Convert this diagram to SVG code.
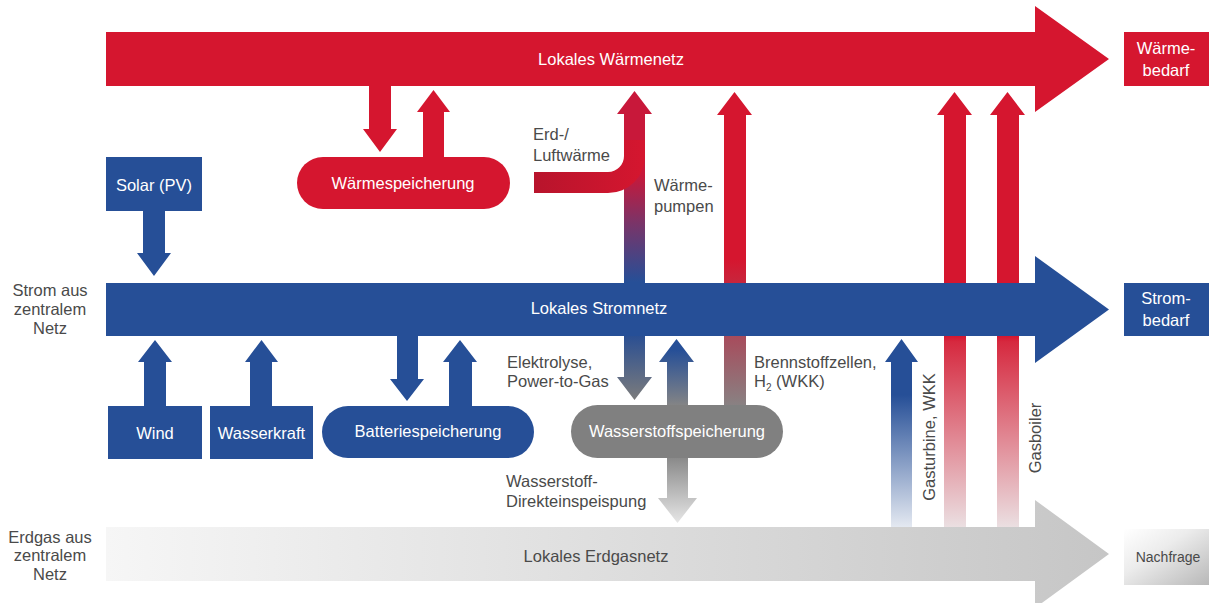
<svg xmlns="http://www.w3.org/2000/svg" width="1209" height="603" viewBox="0 0 1209 603">
<style>
text{font-family:"Liberation Sans",Arial,sans-serif;font-size:16.5px}
.w{fill:#ffffff}
.d{fill:#4a4a4a}
.m{text-anchor:middle}
.red{fill:#d5162f}
.blue{fill:#264f97}
.gray{fill:#808080}
</style>
<defs>
<linearGradient id="gGas" x1="0" y1="0" x2="1" y2="0"><stop offset="0" stop-color="#f6f6f6"/><stop offset="1" stop-color="#c6c6c6"/></linearGradient>
<linearGradient id="gNach" x1="0" y1="0" x2="1" y2="1"><stop offset="0" stop-color="#ffffff"/><stop offset="0.4" stop-color="#ececec"/><stop offset="1" stop-color="#b8b8b8"/></linearGradient>
<linearGradient id="gErd" gradientUnits="userSpaceOnUse" x1="534" y1="0" x2="645" y2="0"><stop offset="0" stop-color="#b8142c"/><stop offset="1" stop-color="#d5162f"/></linearGradient>
<linearGradient id="gWP" gradientUnits="userSpaceOnUse" x1="0" y1="175" x2="0" y2="282"><stop offset="0" stop-color="#c8183a"/><stop offset="0.45" stop-color="#7a3468"/><stop offset="1" stop-color="#264f97"/></linearGradient>
<linearGradient id="gBZ" gradientUnits="userSpaceOnUse" x1="0" y1="260" x2="0" y2="406"><stop offset="0" stop-color="#d5162f"/><stop offset="0.5" stop-color="#a9495a"/><stop offset="1" stop-color="#888283"/></linearGradient>
<linearGradient id="gEL" gradientUnits="userSpaceOnUse" x1="0" y1="336" x2="0" y2="400"><stop offset="0" stop-color="#2b4f92"/><stop offset="1" stop-color="#7c7c7c"/></linearGradient>
<linearGradient id="gH2up" gradientUnits="userSpaceOnUse" x1="0" y1="350" x2="0" y2="406"><stop offset="0" stop-color="#264f97"/><stop offset="1" stop-color="#858585"/></linearGradient>
<linearGradient id="gH2dn" gradientUnits="userSpaceOnUse" x1="0" y1="458" x2="0" y2="523"><stop offset="0" stop-color="#8a8a8a"/><stop offset="1" stop-color="#e6e6e6"/></linearGradient>
<linearGradient id="gGT" gradientUnits="userSpaceOnUse" x1="0" y1="395" x2="0" y2="530"><stop offset="0" stop-color="#264f97"/><stop offset="1" stop-color="#e8ecf3"/></linearGradient>
<linearGradient id="gGB" gradientUnits="userSpaceOnUse" x1="0" y1="336" x2="0" y2="530"><stop offset="0" stop-color="#d5162f"/><stop offset="0.03" stop-color="#d6293f"/><stop offset="1" stop-color="#ebe2e4"/></linearGradient>
</defs>

<g id="connectors">
  <!-- Wärmespeicherung -->
  <path class="red" d="M369,86 V129 H363 L380,152 L397,129 H391 V86 Z"/>
  <path class="red" d="M423,157 V112 H417 L433.5,90 L450,112 H444 V157 Z"/>
  <!-- Wärmepumpen -->
  <path fill="url(#gWP)" d="M624,283 V114 H617 L634.5,91 L652,114 H645 V283 Z"/>
  <path fill="url(#gErd)" d="M534,172 H608 A16,16 0 0 0 624,156 V140 H645 V156 A37,37 0 0 1 608,193 H534 Z"/>
  <!-- Brennstoffzellen -->
  <path fill="url(#gBZ)" d="M724,406 V115 H717 L734.5,92 L752,115 H746 V406 Z"/>
  <!-- Elektrolyse -->
  <path fill="url(#gEL)" d="M624,336 V377 H617 L634.5,400 L652,377 H645 V336 Z"/>
  <!-- H2 up -->
  <path fill="url(#gH2up)" d="M667,406 V362 H659 L676.5,339 L694,362 H688 V406 Z"/>
  <!-- H2 down -->
  <path fill="url(#gH2dn)" d="M667,458 V498 H658 L677.5,523 L697,498 H688 V458 Z"/>
  <!-- Solar -->
  <path class="blue" d="M143,211 V253 H137 L154,276 L171,253 H165 V211 Z"/>
  <!-- Wind -->
  <path class="blue" d="M144,406 V362 H138 L155,340 L172,362 H166 V406 Z"/>
  <!-- Wasserkraft -->
  <path class="blue" d="M250,406 V362 H245 L261.5,340 L278,362 H272 V406 Z"/>
  <!-- Batterie -->
  <path class="blue" d="M397,336 V379 H390 L407,401 L424,379 H418 V336 Z"/>
  <path class="blue" d="M449,406 V362 H443 L460,340 L477,362 H472 V406 Z"/>
  <!-- Gasturbine -->
  <path fill="url(#gGT)" d="M891,530 V362 H885 L901.5,339 L918,362 H912 V530 Z"/>
  <!-- Gas to heat -->
  <path fill="url(#gGB)" d="M944,530 V115 H937 L954.5,92 L972,115 H966 V530 Z"/>
  <path fill="url(#gGB)" d="M997,530 V115 H990 L1007.5,92 L1025,115 H1019 V530 Z"/>
</g>

<g id="waermenetz">
  <path class="red" d="M106,32 H1035 V6 L1109,59 L1035,112 V86 H106 Z"/>
  <text class="w m" x="611" y="65">Lokales Wärmenetz</text>
</g>
<g id="stromnetz">
  <path class="blue" d="M106,283 H1035 V256 L1109,309.5 L1035,363 V336 H106 Z"/>
  <text class="w m" x="599" y="314">Lokales Stromnetz</text>
</g>
<g id="erdgasnetz">
  <path fill="url(#gGas)" d="M106,527 H1035 V500 L1109,554 L1035,608 V581 H106 Z"/>
  <text class="d m" x="596" y="562">Lokales Erdgasnetz</text>
</g>

<g id="waermespeicherung">
  <rect class="red" x="297" y="157" width="213" height="52" rx="26"/>
  <text class="w m" x="403" y="189">Wärmespeicherung</text>
</g>
<g id="solar">
  <rect class="blue" x="106" y="157" width="96" height="54"/>
  <text class="w m" x="154" y="191">Solar (PV)</text>
</g>
<g id="wind">
  <rect class="blue" x="108" y="406" width="94" height="53"/>
  <text class="w m" x="155" y="439">Wind</text>
</g>
<g id="wasserkraft">
  <rect class="blue" x="210" y="406" width="103" height="53"/>
  <text class="w m" x="261.5" y="439">Wasserkraft</text>
</g>
<g id="batteriespeicherung">
  <rect class="blue" x="322" y="406" width="212" height="52" rx="26"/>
  <text class="w m" x="428" y="437">Batteriespeicherung</text>
</g>
<g id="wasserstoffspeicherung">
  <rect class="gray" x="571" y="405" width="212" height="53" rx="26.5"/>
  <text class="w m" x="677" y="437">Wasserstoffspeicherung</text>
</g>

<g id="waermebedarf">
  <rect class="red" x="1124" y="32" width="85" height="54"/>
  <text class="w m" x="1166" y="54">Wärme-</text>
  <text class="w m" x="1166" y="76">bedarf</text>
</g>
<g id="strombedarf">
  <rect class="blue" x="1124" y="283" width="85" height="53"/>
  <text class="w m" x="1166" y="304">Strom-</text>
  <text class="w m" x="1166" y="326">bedarf</text>
</g>
<g id="nachfrage">
  <rect fill="url(#gNach)" x="1124" y="529" width="85" height="56"/>
  <text class="d m" x="1168" y="562" style="font-size:14px">Nachfrage</text>
</g>

<g id="strom-zentral">
  <text class="d m" x="50" y="296">Strom aus</text>
  <text class="d m" x="50" y="315">zentralem</text>
  <text class="d m" x="50" y="334">Netz</text>
</g>
<g id="erdgas-zentral">
  <text class="d m" x="50" y="543">Erdgas aus</text>
  <text class="d m" x="50" y="561">zentralem</text>
  <text class="d m" x="50" y="580">Netz</text>
</g>

<g id="labels">
  <text class="d" x="533" y="140">Erd-/</text>
  <text class="d" x="533" y="161">Luftwärme</text>
  <text class="d" x="654" y="191">Wärme-</text>
  <text class="d" x="654" y="212">pumpen</text>
  <text class="d" x="507" y="368">Elektrolyse,</text>
  <text class="d" x="507" y="387">Power-to-Gas</text>
  <text class="d" x="754" y="368">Brennstoffzellen,</text>
  <text class="d" x="754" y="387">H<tspan style="font-size:10px" dy="4">2</tspan><tspan dy="-4"> (WKK)</tspan></text>
  <text class="d" x="506" y="487">Wasserstoff-</text>
  <text class="d" x="506" y="507">Direkteinspeispung</text>
  <text class="d m" transform="translate(935,437) rotate(-90)">Gasturbine, WKK</text>
  <text class="d m" transform="translate(1041,438) rotate(-90)">Gasboiler</text>
</g>
</svg>
